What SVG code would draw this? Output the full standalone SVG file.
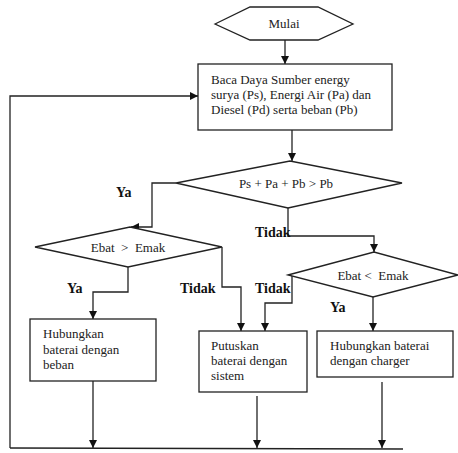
<svg xmlns="http://www.w3.org/2000/svg" width="458" height="453" viewBox="0 0 458 453">
<style>
.s{fill:#fff;stroke:#222;stroke-width:1.3}
.c{fill:none;stroke:#222;stroke-width:1.3}
.t{font-size:13px;fill:#222}
.m{text-anchor:middle}
.b{font-size:14px;font-weight:bold;fill:#111}
</style>
<defs>
<marker id="a" viewBox="0 0 10 10" refX="10" refY="5" markerWidth="8" markerHeight="8" markerUnits="userSpaceOnUse" orient="auto">
<path d="M0,0 L10,5 L0,10 Z" fill="#111"/>
</marker>
</defs>
<rect width="458" height="453" fill="#fff"/>
<g id="connectors">
<line class="c" x1="285" y1="40" x2="285" y2="64" marker-end="url(#a)"/>
<polyline class="c" points="10,448 10,96 198,96" marker-end="url(#a)"/>
<line class="c" x1="10" y1="448" x2="403" y2="449"/>
<line class="c" x1="292" y1="130" x2="292" y2="161" marker-end="url(#a)"/>
<polyline class="c" points="176,183 152,183 152,227 131,227" marker-end="url(#a)"/>
<polyline class="c" points="288,208 288,236 374,236 374,252" marker-end="url(#a)"/>
<polyline class="c" points="128,267 128,292 93,292 93,319" marker-end="url(#a)"/>
<polyline class="c" points="222,247 222,287 241,287 241,331" marker-end="url(#a)"/>
<polyline class="c" points="292,275 292,303 265,303 265,331" marker-end="url(#a)"/>
<line class="c" x1="373" y1="297" x2="373" y2="331" marker-end="url(#a)"/>
<line class="c" x1="93" y1="381" x2="93" y2="448" marker-end="url(#a)"/>
<line class="c" x1="257" y1="396" x2="257" y2="448" marker-end="url(#a)"/>
<line class="c" x1="382" y1="382" x2="382" y2="448" marker-end="url(#a)"/>
<text class="b" font-family="Liberation Serif" x="116" y="197">Ya</text>
<text class="b" font-family="Liberation Serif" x="255" y="237">Tidak</text>
<text class="b" font-family="Liberation Serif" x="67" y="293">Ya</text>
<text class="b" font-family="Liberation Serif" x="180" y="293">Tidak</text>
<text class="b" font-family="Liberation Serif" x="255" y="293">Tidak</text>
<text class="b" font-family="Liberation Serif" x="330" y="312">Ya</text>
</g>
<g id="start">
<polygon class="s" points="215,24 250,7 318,7 353,24 318,40 250,40"/>
<text class="t m" font-family="Liberation Serif" x="284" y="28">Mulai</text>
</g>
<g id="read">
<rect class="s" x="198" y="64" width="194" height="66"/>
<text class="t" font-family="Liberation Serif" x="211" y="84">Baca Daya Sumber energy</text>
<text class="t" font-family="Liberation Serif" x="211" y="99">surya (Ps), Energi Air (Pa) dan</text>
<text class="t" font-family="Liberation Serif" x="211" y="114">Diesel (Pd) serta beban (Pb)</text>
</g>
<g id="dec1">
<polygon class="s" points="176,183 290,161 402,183 288,208"/>
<text class="t m" font-family="Liberation Serif" x="286" y="188">Ps + Pa + Pb &gt; Pb</text>
</g>
<g id="dec2">
<polygon class="s" points="35,247 130,227 222,247 128,267"/>
<text class="t m" font-family="Liberation Serif" x="128" y="252" xml:space="preserve">Ebat  &gt;  Emak</text>
</g>
<g id="dec3">
<polygon class="s" points="288,275 374,252 458,275 373,297"/>
<text class="t m" font-family="Liberation Serif" x="373" y="280" xml:space="preserve">Ebat &lt;  Emak</text>
</g>
<g id="box1">
<rect class="s" x="30" y="319" width="126" height="62"/>
<text class="t" font-family="Liberation Serif" x="43" y="338">Hubungkan</text>
<text class="t" font-family="Liberation Serif" x="43" y="354">baterai dengan</text>
<text class="t" font-family="Liberation Serif" x="43" y="369">beban</text>
</g>
<g id="box2">
<rect class="s" x="199" y="331" width="108" height="61"/>
<text class="t" font-family="Liberation Serif" x="211" y="350">Putuskan</text>
<text class="t" font-family="Liberation Serif" x="211" y="365">baterai dengan</text>
<text class="t" font-family="Liberation Serif" x="211" y="380">sistem</text>
</g>
<g id="box3">
<rect class="s" x="317" y="331" width="136" height="46"/>
<text class="t" font-family="Liberation Serif" x="330" y="350">Hubungkan baterai</text>
<text class="t" font-family="Liberation Serif" x="330" y="365">dengan charger</text>
</g>
</svg>
